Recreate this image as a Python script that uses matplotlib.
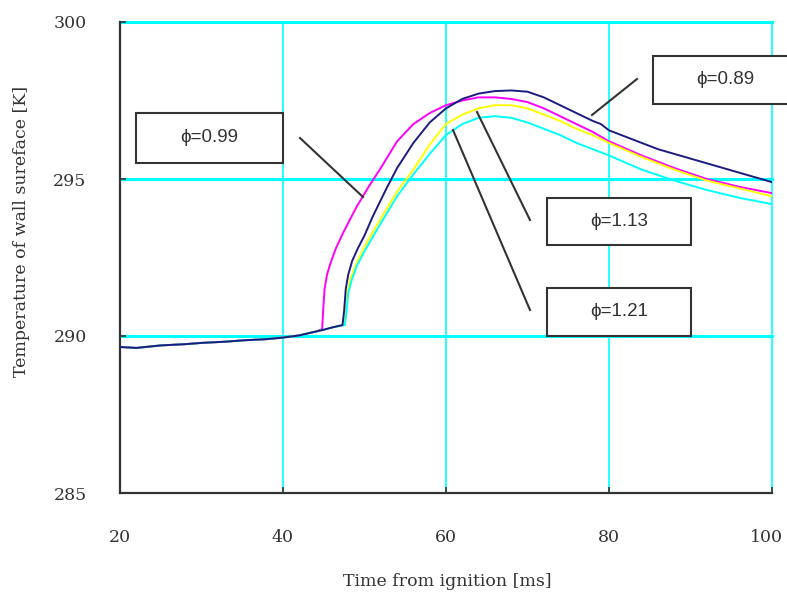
import matplotlib
matplotlib.use("Agg")
import matplotlib.pyplot as plt
import matplotlib.transforms as mtransforms
from matplotlib.patches import Rectangle

# ---------------- data ----------------
base_t = [20, 22, 25, 28, 30, 33, 35, 38, 40, 42, 43, 44]
base_T = [289.65, 289.62, 289.7, 289.74, 289.78, 289.82, 289.86, 289.9, 289.95, 290.02, 290.08, 290.14]

# phi = 0.99 (magenta)
t_099 = base_t + [44.8, 44.95, 45.1, 45.4, 45.8, 46.5, 47.5, 49.0, 50.5, 52.0, 54.0, 56.0, 58.0, 60.0,
                  62.0, 64.0, 66.0, 68.0, 70.0, 72.0, 74.0, 76.0, 78.0, 80.0, 84.0, 88.0, 92.0, 96.0, 100.0]
T_099 = base_T + [290.22, 290.9, 291.5, 291.95, 292.3, 292.8, 293.35, 294.1, 294.75, 295.35, 296.2, 296.75, 297.1, 297.35,
                  297.5, 297.6, 297.6, 297.55, 297.45, 297.25, 297.0, 296.75, 296.5, 296.2, 295.75, 295.35, 295.0, 294.75, 294.55]

# phi = 0.89 (navy)
t_089 = base_t + [45.0, 46.0, 47.3, 47.5, 47.7, 48.0, 48.5, 49.2, 50.0, 51.0, 52.7, 54.0, 56.0, 58.0, 60.0, 62.0,
                  64.0, 66.0, 68.0, 70.0, 72.0, 74.0, 76.0, 78.0, 79.0, 80.0, 82.0, 84.0, 86.0, 88.0, 90.0,
                  92.0, 94.0, 96.0, 98.0, 100.0]
T_089 = base_T + [290.2, 290.27, 290.35, 290.8, 291.5, 291.95, 292.4, 292.8, 293.2, 293.8, 294.7, 295.35, 296.15, 296.8,
                  297.25, 297.55, 297.72, 297.8, 297.82, 297.78, 297.6, 297.35, 297.1, 296.85, 296.75, 296.55,
                  296.35, 296.15, 295.95, 295.8, 295.65, 295.5, 295.35, 295.2, 295.05, 294.9]

# phi = 1.13 (yellow)
t_113 = base_t + [45.0, 46.0, 47.5, 47.7, 47.9, 48.3, 49.0, 50.0, 51.9, 54.0, 56.0, 58.0, 60.0, 62.0, 64.0, 66.0,
                  68.0, 70.0, 72.0, 74.0, 76.0, 78.0, 80.0, 84.0, 88.0, 92.0, 96.0, 100.0]
T_113 = base_T + [290.2, 290.27, 290.35, 290.8, 291.4, 291.85, 292.3, 292.85, 293.7, 294.6, 295.3, 296.1, 296.75, 297.05,
                  297.25, 297.35, 297.35, 297.25, 297.05, 296.85, 296.6, 296.4, 296.15, 295.7, 295.3, 294.95,
                  294.7, 294.45]

# phi = 1.21 (cyan)
t_121 = base_t + [45.0, 46.0, 47.6, 47.8, 48.0, 48.4, 49.0, 50.0, 51.9, 54.0, 56.0, 58.0, 60.0, 62.0, 64.0, 66.0,
                  68.0, 70.0, 72.0, 74.0, 76.0, 78.0, 80.0, 84.0, 88.0, 92.0, 96.0, 100.0]
T_121 = base_T + [290.2, 290.27, 290.35, 290.8, 291.35, 291.75, 292.2, 292.7, 293.55, 294.45, 295.15, 295.8, 296.4, 296.75,
                  296.95, 297.0, 296.95, 296.8, 296.6, 296.4, 296.15, 295.95, 295.75, 295.3, 294.95, 294.65,
                  294.4, 294.2]

x_ticks = [20, 40, 60, 80, 100]
y_ticks = [285, 290, 295, 300]
labels = ["\u03d5=0.99", "\u03d5=0.89", "\u03d5=1.13", "\u03d5=1.21"]

# ---------------- plot ----------------
W, H = 787, 596
fig = plt.figure(figsize=(W / 100, H / 100), dpi=100)
ax = fig.add_axes([120 / W, 1 - 493 / H, 652 / W, 471 / H])

ax.set_xlim(20, 100)
ax.set_ylim(285, 300)

for yv in y_ticks[1:]:
    ax.axhline(yv, color="#00ffff", lw=2.2, zorder=1, clip_on=False)
for xv in x_ticks[1:]:
    ax.axvline(xv, color="#00ffff", lw=1.2, zorder=1, clip_on=False)

ax.plot(t_099, T_099, color="#ff00ff", lw=1.4, zorder=3)
ax.plot(t_089, T_089, color="#1c1c80", lw=1.4, zorder=4)
ax.plot(t_113, T_113, color="#ffff00", lw=1.4, zorder=3)
ax.plot(t_121, T_121, color="#00ffff", lw=1.4, zorder=3)

for s in ["top", "right"]:
    ax.spines[s].set_visible(False)
for s in ["left", "bottom"]:
    ax.spines[s].set_color("#333333")
    ax.spines[s].set_linewidth(1.6)

ax.set_xticks(x_ticks)
ax.set_yticks(y_ticks)
ax.tick_params(direction="in", length=4, width=1.2, color="#333333", labelsize=12.5)
ax.tick_params(axis="x", pad=26)
ax.tick_params(axis="y", pad=24)
for lab in ax.get_xticklabels() + ax.get_yticklabels():
    lab.set_family("DejaVu Serif")
    lab.set_color("#333333")
last = ax.get_xticklabels()[-1]
last.set_transform(last.get_transform() + mtransforms.ScaledTranslation(-6 / 100, 0, fig.dpi_scale_trans))

fig.text(447 / W, 1 - 581 / H, "Time from ignition [ms]", ha="center", va="center",
         fontsize=12.5, family="DejaVu Serif", color="#333333")
fig.text(22 / W, 1 - 231 / H, "Temperature of wall sureface [K]", ha="center", va="center",
         rotation=90, fontsize=12.5, family="DejaVu Serif", color="#333333")

# label boxes (pixel coordinates) and leader lines
def px(x, y):
    return x / W, 1 - y / H

boxes = [(136, 113, 147, 50), (653, 56, 144, 48), (547, 198, 144, 47), (547, 288, 144, 48)]
leaders = [((300, 138), (363, 197)), ((637, 79), (592, 115)),
           ((477, 112), (530, 220)), ((453, 130), (530, 310))]
for (bx, by, bw, bh), lab in zip(boxes, labels):
    x0, y0 = px(bx, by + bh)
    fig.patches.append(Rectangle((x0, y0), bw / W, bh / H, transform=fig.transFigure,
                                 facecolor="white", edgecolor="#333333", lw=1.5, zorder=5))
    cx, cy = px(bx + bw / 2, by + bh / 2)
    fig.text(cx, cy, lab, ha="center", va="center", fontsize=13.5,
             family=["Liberation Sans", "DejaVu Sans"], color="#333333", zorder=6)
for (a, b) in leaders:
    xa, ya = px(*a)
    xb, yb = px(*b)
    fig.add_artist(plt.Line2D([xa, xb], [ya, yb], transform=fig.transFigure,
                              color="#333333", lw=1.5, zorder=5))

fig.savefig("out.png", dpi=100)
